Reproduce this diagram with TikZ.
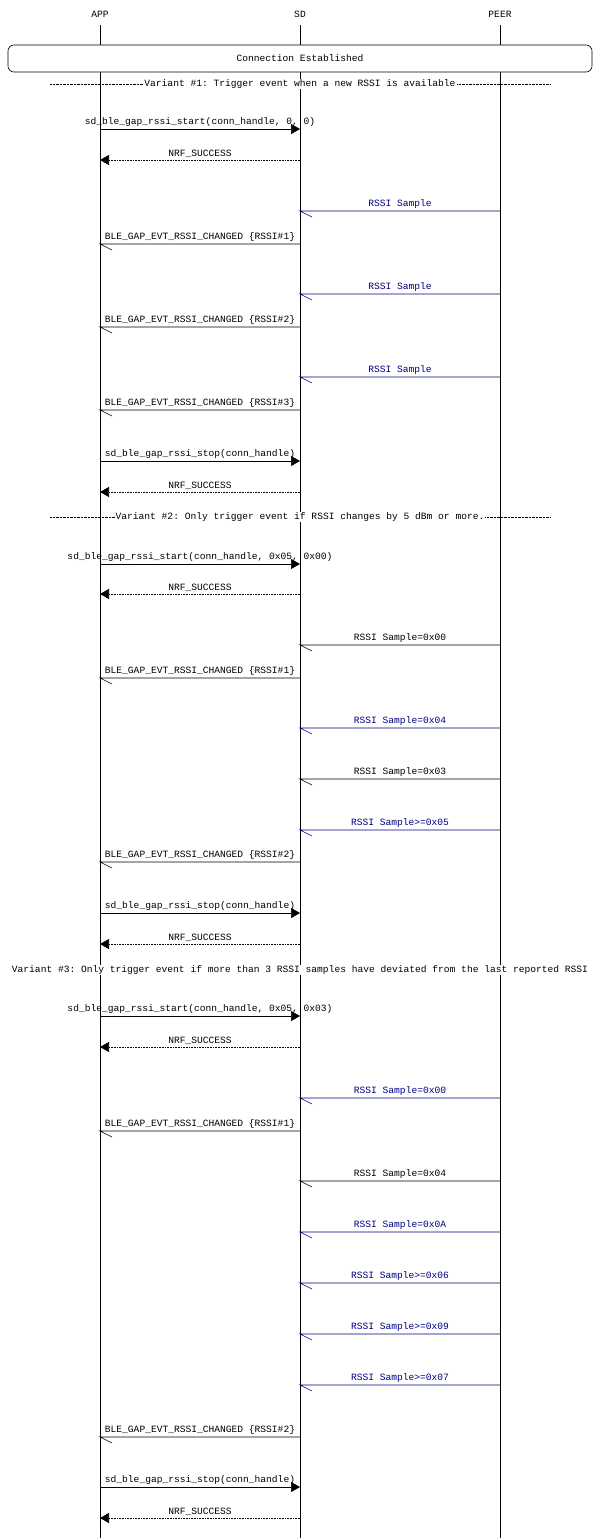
\documentclass[tikz,border=0pt]{standalone}
\usepackage{fontspec}
\setmonofont{Liberation Mono}
\usetikzlibrary{arrows.meta,positioning,calc}

\definecolor{msgblue}{RGB}{0,0,128}

\tikzset{
  lbl/.style={font=\ttfamily\fontsize{9.6}{11}\selectfont, inner sep=1pt},
  life/.style={line width=0.6pt},
  call/.style={line width=0.6pt,-{Triangle[length=9pt,width=10pt]}},
  reply/.style={line width=0.6pt,densely dotted,-{Triangle[length=9pt,width=10pt]}},
  evt/.style={line width=0.6pt}
}

% lifeline x positions
\newcommand{\xapp}{100}
\newcommand{\xsd}{300}
\newcommand{\xpeer}{500}

% message from lifeline #1 to #2 at height #3
\newcommand{\callmsg}[4]{%
  \coordinate (s) at (#1,#3); \coordinate (t) at (#2,#3);
  \draw[call] (s) -- (t) node[lbl, midway, above=1pt] {#4};}
\newcommand{\replymsg}[4]{%
  \coordinate (s) at (#1,#3); \coordinate (t) at (#2,#3);
  \draw[reply] (s) -- (t) node[lbl, midway, above=1pt] {#4};}
\newcommand{\evtmsg}[5][black]{%
  \coordinate (s) at (#2,#4); \coordinate (t) at (#3,#4);
  \coordinate (h) at (#3+12,#4+6);
  \draw[evt, #1] (s) -- (t) -- (h);
  \node[lbl, #1, above=1pt] at ($(s)!0.5!(t)$) {#5};}

\begin{document}
\begin{tikzpicture}[x=1pt, y=-1pt]
\useasboundingbox (0,0) rectangle (600,1538);

% Entities
\node[lbl] (app) at (\xapp,14) {APP};
\node[lbl] (sd) at (\xsd,14) {SD};
\node[lbl] (peer) at (\xpeer,14) {PEER};
\foreach \n/\x in {app/\xapp, sd/\xsd, peer/\xpeer}
  \draw[life] (\x,25) -- (\x,1538);

% Connection box
\node[lbl, draw, fill=white, rounded corners=6pt, minimum width=584pt, minimum height=27pt, line width=0.6pt] (conn) at (300,58.5) {Connection Established};

% Variant 1
\draw[densely dotted] (50,84) -- (550,84);
\node[lbl, fill=white] (var1) at (300,84) {Variant \#1: Trigger event when a new RSSI is available};
\callmsg{\xapp}{\xsd}{129}{sd\_ble\_gap\_rssi\_start(conn\_handle, 0, 0)}
\replymsg{\xsd}{\xapp}{160}{NRF\_SUCCESS}
\evtmsg[msgblue]{\xpeer}{\xsd}{211}{RSSI Sample}
\evtmsg{\xsd}{\xapp}{244}{BLE\_GAP\_EVT\_RSSI\_CHANGED \{RSSI\#1\}}
\evtmsg[msgblue]{\xpeer}{\xsd}{294}{RSSI Sample}
\evtmsg{\xsd}{\xapp}{327}{BLE\_GAP\_EVT\_RSSI\_CHANGED \{RSSI\#2\}}
\evtmsg[msgblue]{\xpeer}{\xsd}{377}{RSSI Sample}
\evtmsg{\xsd}{\xapp}{410}{BLE\_GAP\_EVT\_RSSI\_CHANGED \{RSSI\#3\}}
\callmsg{\xapp}{\xsd}{461}{sd\_ble\_gap\_rssi\_stop(conn\_handle)}
\replymsg{\xsd}{\xapp}{492}{NRF\_SUCCESS}

% Variant 2
\draw[densely dotted] (50,517) -- (550,517);
\node[lbl, fill=white] (var2) at (300,517) {Variant \#2: Only trigger event if RSSI changes by 5 dBm or more.};
\callmsg{\xapp}{\xsd}{564}{sd\_ble\_gap\_rssi\_start(conn\_handle, 0x05, 0x00)}
\replymsg{\xsd}{\xapp}{594}{NRF\_SUCCESS}
\evtmsg{\xpeer}{\xsd}{645}{RSSI Sample=0x00}
\evtmsg{\xsd}{\xapp}{678}{BLE\_GAP\_EVT\_RSSI\_CHANGED \{RSSI\#1\}}
\evtmsg[msgblue]{\xpeer}{\xsd}{728}{RSSI Sample=0x04}
\evtmsg{\xpeer}{\xsd}{779}{RSSI Sample=0x03}
\evtmsg[msgblue]{\xpeer}{\xsd}{830}{RSSI Sample>=0x05}
\evtmsg{\xsd}{\xapp}{862}{BLE\_GAP\_EVT\_RSSI\_CHANGED \{RSSI\#2\}}
\callmsg{\xapp}{\xsd}{913}{sd\_ble\_gap\_rssi\_stop(conn\_handle)}
\replymsg{\xsd}{\xapp}{944}{NRF\_SUCCESS}

% Variant 3
\node[lbl, fill=white] (var3) at (300,970) {Variant \#3: Only trigger event if more than 3 RSSI samples have deviated from the last reported RSSI};
\callmsg{\xapp}{\xsd}{1016}{sd\_ble\_gap\_rssi\_start(conn\_handle, 0x05, 0x03)}
\replymsg{\xsd}{\xapp}{1047}{NRF\_SUCCESS}
\evtmsg[msgblue]{\xpeer}{\xsd}{1098}{RSSI Sample=0x00}
\evtmsg{\xsd}{\xapp}{1131}{BLE\_GAP\_EVT\_RSSI\_CHANGED \{RSSI\#1\}}
\evtmsg{\xpeer}{\xsd}{1181}{RSSI Sample=0x04}
\evtmsg[msgblue]{\xpeer}{\xsd}{1232}{RSSI Sample=0x0A}
\evtmsg[msgblue]{\xpeer}{\xsd}{1283}{RSSI Sample>=0x06}
\evtmsg[msgblue]{\xpeer}{\xsd}{1334}{RSSI Sample>=0x09}
\evtmsg[msgblue]{\xpeer}{\xsd}{1385}{RSSI Sample>=0x07}
\evtmsg{\xsd}{\xapp}{1437}{BLE\_GAP\_EVT\_RSSI\_CHANGED \{RSSI\#2\}}
\callmsg{\xapp}{\xsd}{1487}{sd\_ble\_gap\_rssi\_stop(conn\_handle)}
\replymsg{\xsd}{\xapp}{1518}{NRF\_SUCCESS}
\end{tikzpicture}
\end{document}
